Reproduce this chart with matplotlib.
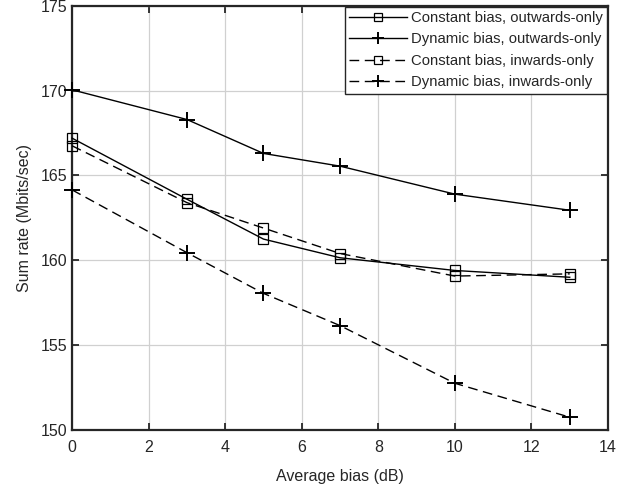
import matplotlib.pyplot as plt

plt.rcParams['font.family'] = ['Liberation Sans', 'DejaVu Sans']

bias = [0, 3, 5, 7, 10, 13]
const_out = [167.2, 163.6, 161.25, 160.15, 159.4, 159.0]
dyn_out = [170.05, 168.3, 166.3, 165.55, 163.9, 162.95]
const_in = [166.75, 163.4, 161.9, 160.4, 159.07, 159.2]
dyn_in = [164.15, 160.45, 158.05, 156.15, 152.75, 150.75]

labels = ['Constant bias, outwards-only', 'Dynamic bias, outwards-only',
          'Constant bias, inwards-only', 'Dynamic bias, inwards-only']

dark = '#262626'
fig = plt.figure(figsize=(6.38, 4.88), dpi=100)
ax = fig.add_axes([0.113, 0.119, 0.840, 0.869])

dash = (0, (7, 4))
ax.plot(bias, const_out, '-', color='black', lw=1, marker='s', ms=7,
        mfc='none', mew=0.9, label=labels[0], clip_on=False, zorder=3)
ax.plot(bias, dyn_out, '-', color='black', lw=1, marker='+', ms=11,
        mew=1.4, label=labels[1], clip_on=False, zorder=3)
ax.plot(bias, const_in, linestyle=dash, color='black', lw=1, marker='s', ms=7,
        mfc='none', mew=0.9, label=labels[2], clip_on=False, zorder=3)
ax.plot(bias, dyn_in, linestyle=dash, color='black', lw=1, marker='+', ms=11,
        mew=1.4, label=labels[3], clip_on=False, zorder=3)

ax.set_xlim(0, 14)
ax.set_ylim(150, 175)
ax.set_xticks(range(0, 15, 2))
ax.set_yticks(range(150, 176, 5))
ax.grid(True, color='#d0d0d0', lw=0.9)
ax.set_axisbelow(True)
ax.tick_params(direction='in', top=True, right=True, labelsize=11.5, length=5,
               width=1.3, colors=dark, labelcolor=dark)
ax.tick_params(axis='x', pad=7)
for s in ax.spines.values():
    s.set_linewidth(1.6)
    s.set_color(dark)

ax.set_xlabel('Average bias (dB)', fontsize=11.5, color=dark, labelpad=10)
ax.set_ylabel('Sum rate (Mbits/sec)', fontsize=11.5, color=dark, labelpad=6)

leg = ax.legend(loc='upper right', fontsize=10.7, frameon=True, fancybox=False,
                edgecolor=dark, framealpha=1, handlelength=3.9,
                borderaxespad=0.05, labelspacing=0.5, handletextpad=0.25,
                borderpad=0.3, markerscale=0.8)
leg.get_frame().set_linewidth(1.0)
for t in leg.get_texts():
    t.set_color(dark)

fig.savefig('out.png', dpi=100)
